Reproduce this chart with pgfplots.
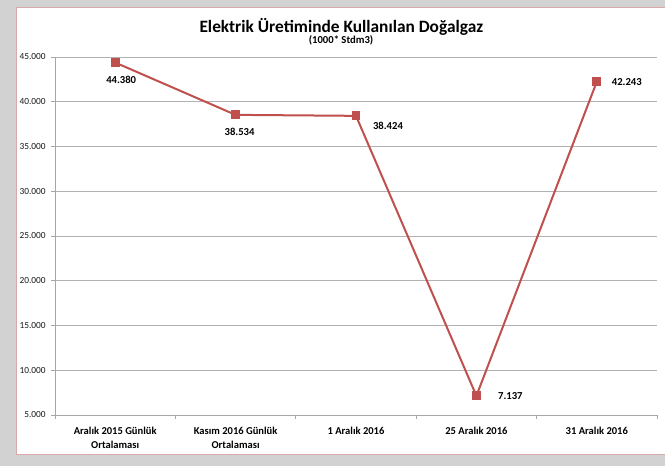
\documentclass[border=0pt]{standalone}
\usepackage{pgfplots}
\pgfplotsset{compat=1.18}
\usepackage{pgfplotstable}
\usepackage{fontspec}
\setmainfont{Carlito}
\definecolor{linered}{HTML}{C0504D}
\definecolor{bggray}{HTML}{D2D2D2}
\definecolor{panelborder}{HTML}{D9A8A8}
\pgfplotstableread{
x y dx dy label
0 44380 4.5 -12.75 44.380
1 38534 3 -12.75 38.534
2 38424 24 -7.5 38.424
3 7137 25.5 0 7.137
4 42243 22.5 0 42.243
}\gasdata
\begin{document}
\begin{tikzpicture}
\path[use as bounding box] (0,0) rectangle (498.75pt,349.5pt);
\fill[bggray] (0,0) rectangle (498.75pt,349.5pt);
\fill[white, draw=panelborder, line width=0.6pt] (12pt,9pt) rectangle (505pt,344.25pt);
\node[font=\bfseries\fontsize{13}{15}\selectfont] at (256pt,329.5pt) {Elektrik Üretiminde Kullanılan Doğalgaz};
\node[font=\bfseries\fontsize{8}{9}\selectfont] at (255.75pt,319pt) {(1000* Stdm3)};
\begin{axis}[
  at={(41.25pt,38.25pt)}, anchor=south west,
  scale only axis, width=451.5pt, height=268.5pt,
  xmin=-0.5, xmax=4.5, ymin=5000, ymax=45000,
  ytick={5000,10000,...,45000},
  scaled y ticks=false,
  ymajorgrids, major grid style={gray!60, line width=0.5pt},
  axis x line*=bottom, axis y line*=left,
  axis line style={gray!70, line width=0.5pt},
  tick style={gray!70, line width=0.5pt},
  tick align=outside, major tick length=3pt, minor tick length=3pt,
  xtick={0,...,4},
  xticklabels={{Aralık 2015 Günlük\\Ortalaması},{Kasım 2016 Günlük\\Ortalaması},{1 Aralık 2016},{25 Aralık 2016},{31 Aralık 2016}},
  every major x tick/.append style={draw=none},
  minor xtick={-0.5,0.5,1.5,2.5,3.5,4.5},
  xticklabel style={font=\bfseries\fontsize{7.9}{10.5}\selectfont, align=center, text=black, yshift=-2.5pt},
  yticklabel style={font=\fontsize{7}{8}\selectfont, text=black!90, xshift=-0.5pt,
    /pgf/number format/.cd, fixed, precision=0, 1000 sep={.}, assume math mode=true},
]
\addplot[linered, line width=1.5pt, mark=square*, mark size=2.6pt,
  mark options={solid, fill=linered},
  nodes near coords, point meta=explicit symbolic,
  visualization depends on={\thisrow{dx}\as\dx},
  visualization depends on={\thisrow{dy}\as\dy},
  every node near coord/.append style={anchor=center, xshift=\dx pt, yshift=\dy pt, font=\bfseries\fontsize{8}{9}\selectfont, text=black}]
  table[x=x,y=y,meta=label]{\gasdata};
\end{axis}
\end{tikzpicture}
\end{document}
